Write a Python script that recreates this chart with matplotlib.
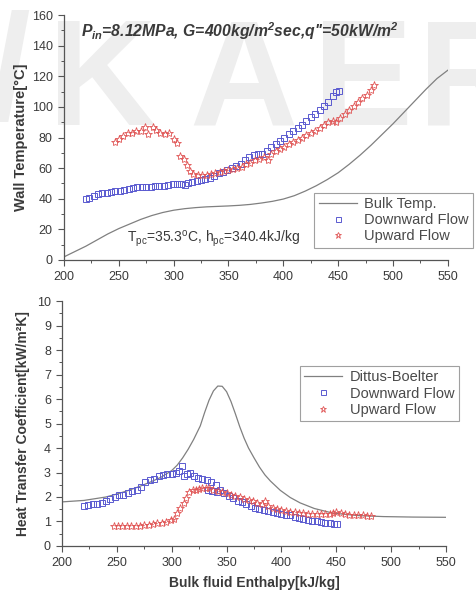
import matplotlib
matplotlib.use('Agg')
from matplotlib import pyplot as plt
from matplotlib.ticker import MultipleLocator

plt.rcParams['font.family'] = ['Liberation Sans', 'DejaVu Sans']
plt.rcParams['mathtext.fontset'] = 'custom'
plt.rcParams['mathtext.it'] = 'Liberation Sans:bold:italic'
plt.rcParams['mathtext.rm'] = 'Liberation Sans:bold:italic'
plt.rcParams['mathtext.sf'] = 'Liberation Sans'

# ---- wall temperature (top panel) ----
bulk_h = [200, 210, 220, 230, 240, 250, 260, 270, 280, 290, 300, 310, 320, 330, 340, 350, 360, 370, 380,
          390, 400, 410, 420, 430, 440, 450, 460, 470, 480, 490, 500, 510, 520, 530, 540, 550]
bulk_T = [2, 5.5, 9, 13, 17, 20.5, 23.5, 26.5, 29, 31, 32.5, 33.5, 34.2, 34.7, 35, 35.3, 35.7, 36.3, 37.2,
          38.3, 39.8, 42, 45, 48.5, 52.5, 57, 62.5, 68.5, 75, 82, 89, 96.5, 104, 111.5, 118.5, 124]

dn_h = [220, 223, 227, 231, 235, 239, 243, 247, 251, 255, 259, 263, 267, 271, 275, 279, 283, 287,
        291, 295, 299, 303, 307, 310, 313, 317, 321, 325, 329, 333, 337, 341, 345, 349, 353, 357,
        361, 365, 369, 373, 377, 381, 385, 389, 393, 397, 401, 405, 409, 413, 417, 421, 425, 429,
        433, 437, 441, 445, 448, 451]
dn_T = [39.6, 40.5, 41.5, 43, 44, 44, 44.5, 45, 45, 45.5, 46.5, 47, 47.5, 47.5, 47.5, 47.5, 48, 48,
        48.5, 49, 49.5, 49.5, 49.5, 49, 50.5, 51, 51.5, 52, 53, 53.5, 55, 56.5, 57.5, 59, 60, 61.5,
        63, 65, 67, 68.5, 69, 69.5, 71, 74, 75.5, 77.5, 80, 82, 84, 86, 88.5, 91, 93.5, 95.5,
        98, 100.5, 103.5, 107, 110, 110.5]

up_h = [247, 250, 254, 258, 262, 266, 270, 274, 277, 281, 284, 288, 292, 296, 300, 303, 306, 309,
        312, 315, 318, 322, 326, 330, 334, 338, 342, 346, 350, 354, 358, 362, 366, 370, 374, 378,
        382, 386, 389, 393, 397, 401, 405, 409, 413, 417, 421, 425, 429, 433, 437, 441, 445, 448,
        452, 456, 460, 464, 468, 472, 476, 480, 483]
up_T = [77, 79, 81, 83, 83, 84, 84.5, 87, 82, 87, 85, 83, 82, 83, 79, 76.5, 68, 66,
        62, 58, 56, 55.5, 55.5, 55.5, 56, 57, 57.5, 58, 58.5, 59.5, 60, 61, 62.5, 63.5, 65, 66,
        67, 65, 69.5, 71, 72.5, 74, 75.5, 77, 78.5, 80, 81.5, 83, 84.5, 86, 88, 90, 91, 90,
        93, 95.5, 98, 100.5, 103, 105.5, 108, 111, 114]

# ---- heat transfer coefficient (bottom panel) ----
db_h = [200, 220, 240, 250, 260, 270, 280, 290, 300, 305, 310, 315, 320, 326, 330, 334, 338, 342,
        346, 350, 354, 358, 362, 366, 370, 375, 380, 385, 390, 399, 408, 417, 430, 447, 470, 493, 520, 550]
db_v = [1.8, 1.86, 2.0, 2.12, 2.26, 2.42, 2.6, 2.8, 3.08, 3.3, 3.6, 3.95, 4.35, 4.9, 5.45, 5.95, 6.33, 6.53,
        6.52, 6.3, 5.9, 5.4, 4.87, 4.4, 4.0, 3.6, 3.22, 2.9, 2.65, 2.27, 1.98, 1.76, 1.53, 1.34, 1.24, 1.2, 1.18, 1.17]

hd_h = [220, 224, 228, 232, 236, 240, 244, 248, 252, 256, 260, 264, 268, 272, 276, 280, 284, 288,
        292, 296, 300, 304, 307, 309, 311, 314, 317, 320, 324, 328, 332, 333, 336, 337, 340, 341,
        344, 348, 352, 356, 360, 364, 368, 372, 376, 380, 384, 388, 392, 396, 400, 404, 408, 412,
        416, 420, 424, 428, 432, 436, 440, 444, 448, 451]
hd_v = [1.63, 1.68, 1.72, 1.73, 1.75, 1.85, 1.92, 2.0, 2.08, 2.1, 2.18, 2.25, 2.3, 2.42, 2.6, 2.68, 2.75, 2.85,
        2.9, 2.93, 2.95, 3.0, 3.05, 3.27, 2.85, 2.95, 3.0, 2.85, 2.78, 2.75, 2.7, 2.3, 2.6, 2.25, 2.5, 2.2,
        2.3, 2.15, 2.05, 1.95, 1.85, 1.78, 1.7, 1.62, 1.55, 1.5, 1.48, 1.42, 1.38, 1.35, 1.32, 1.28, 1.25, 1.2,
        1.15, 1.1, 1.06, 1.03, 1.0, 0.97, 0.95, 0.93, 0.91, 0.9]

hu_h = [247, 251, 255, 259, 263, 267, 271, 275, 279, 283, 287, 291, 295, 299, 302, 305, 308, 311,
        313, 316, 319, 322, 325, 328, 331, 334, 338, 342, 346, 350, 354, 358, 362, 366, 370, 374,
        378, 382, 385, 388, 392, 396, 400, 404, 408, 412, 416, 420, 424, 428, 432, 436, 440, 444,
        447, 450, 454, 458, 462, 466, 470, 474, 478, 482]
hu_v = [0.82, 0.82, 0.81, 0.81, 0.81, 0.82, 0.82, 0.84, 0.86, 0.88, 0.92, 0.95, 0.98, 1.05, 1.12, 1.35, 1.55, 1.75,
        1.95, 2.2, 2.28, 2.3, 2.32, 2.35, 2.38, 2.35, 2.3, 2.25, 2.2, 2.15, 2.1, 2.05, 1.98, 1.93, 1.88, 1.82,
        1.76, 1.72, 1.82, 1.62, 1.56, 1.5, 1.46, 1.43, 1.4, 1.38, 1.36, 1.33, 1.32, 1.31, 1.3, 1.3, 1.29, 1.3,
        1.36, 1.37, 1.33, 1.3, 1.28, 1.27, 1.25, 1.25, 1.24, 1.23]

line_c = '#808080'
blue = '#5a5ad0'
red = '#e05555'
txt = '#3a3a3a'

fig = plt.figure(figsize=(4.77, 5.93), dpi=100)

# faint watermark behind everything
wm = {'color': '#eeeeee', 'fontsize': 108, 'fontweight': 'bold', 'va': 'baseline', 'ha': 'center', 'zorder': -10}
fig.text(0.02, 0.80, '/', **wm)
for ch, xc in zip('KAER', [0.215, 0.51, 0.76, 0.99]):
    fig.text(xc, 0.79, ch, **wm)


def style_axes(ax):
    ax.patch.set_visible(False)
    for s in ['top', 'right']:
        ax.spines[s].set_visible(False)
    for s in ['left', 'bottom']:
        ax.spines[s].set_color('#555555')
        ax.spines[s].set_linewidth(0.9)
    ax.tick_params(which='major', direction='out', length=4, width=0.8, color='#555555',
                   labelsize=9, labelcolor=txt, pad=4)
    ax.tick_params(which='minor', direction='out', length=2, width=0.7, color='#555555')
    ax.set_xlim(200, 550)
    ax.xaxis.set_major_locator(MultipleLocator(50))
    ax.xaxis.set_minor_locator(MultipleLocator(25))


def style_legend(leg):
    leg.get_frame().set_linewidth(0.8)
    for t in leg.get_texts():
        t.set_color('#4a4a4a')


# ---- top panel ----
ax1 = fig.add_axes([0.134, 0.5616, 0.805, 0.413])
style_axes(ax1)
ax1.set_ylim(0, 160)
ax1.yaxis.set_major_locator(MultipleLocator(20))
ax1.yaxis.set_minor_locator(MultipleLocator(10))

ax1.plot(bulk_h, bulk_T, color=line_c, lw=0.9, label='Bulk Temp.')
ax1.plot(dn_h, dn_T, ls='none', marker='s', ms=4.5, mfc='none', mec=blue, mew=0.7, label='Downward Flow')
ax1.plot(up_h, up_T, ls='none', marker='*', ms=6, mfc='none', mec=red, mew=0.6, label='Upward Flow')

ax1.set_ylabel('Wall Temperature[°C]', fontsize=10.5, fontweight='bold', color=txt, labelpad=3)
ax1.text(0.045, 0.935, r"$P_{in}$=8.12MPa, G=400kg/m$^{2}$sec,q''=50kW/m$^{2}$", transform=ax1.transAxes,
         fontsize=11.3, fontweight='bold', fontstyle='italic', color=txt, va='center', ha='left')
ax1.text(0.165, 0.085, r"$\mathsf{T_{pc}}$=35.3$\mathsf{^{o}}$C, $\mathsf{h_{pc}}$=340.4kJ/kg",
         transform=ax1.transAxes, fontsize=10, color=txt, va='center', ha='left')

leg1 = ax1.legend(loc='upper left', bbox_to_anchor=(0.652, 0.275), fontsize=10.5, frameon=True,
                  fancybox=False, edgecolor='#888888', handlelength=2.6, borderpad=0.3,
                  labelspacing=0.15, handletextpad=0.5, borderaxespad=0, markerscale=0.8)
style_legend(leg1)

# ---- bottom panel ----
ax2 = fig.add_axes([0.130, 0.0793, 0.805, 0.413])
style_axes(ax2)
ax2.set_ylim(0, 10)
ax2.yaxis.set_major_locator(MultipleLocator(1))
ax2.yaxis.set_minor_locator(MultipleLocator(0.5))

ax2.plot(db_h, db_v, color=line_c, lw=0.9, label='Dittus-Boelter')
ax2.plot(hd_h, hd_v, ls='none', marker='s', ms=4.5, mfc='none', mec=blue, mew=0.7, label='Downward Flow')
ax2.plot(hu_h, hu_v, ls='none', marker='*', ms=6, mfc='none', mec=red, mew=0.6, label='Upward Flow')

ax2.set_ylabel('Heat Transfer Coefficient[kW/m²K]', fontsize=10, fontweight='bold', color=txt, labelpad=5)
ax2.set_xlabel('Bulk fluid Enthalpy[kJ/kg]', fontsize=10, fontweight='bold', color=txt, labelpad=5)

leg2 = ax2.legend(loc='upper left', bbox_to_anchor=(0.62, 0.735), fontsize=10.5, frameon=True,
                  fancybox=False, edgecolor='#888888', handlelength=2.6, borderpad=0.3,
                  labelspacing=0.15, handletextpad=0.5, borderaxespad=0, markerscale=0.8)
style_legend(leg2)

fig.savefig('out.png', dpi=100)
